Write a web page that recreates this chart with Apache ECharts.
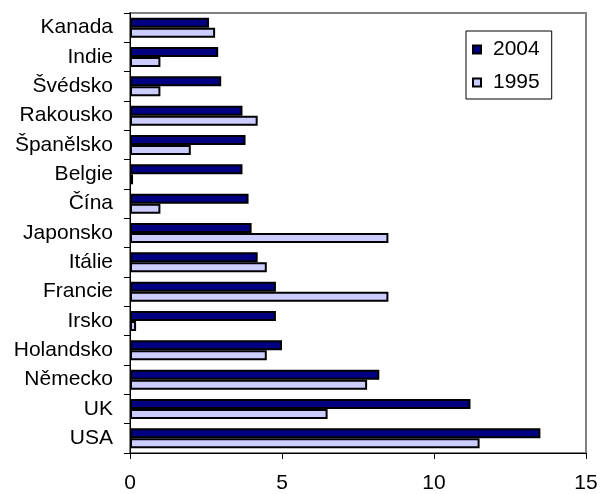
<!DOCTYPE html>
<html>
<head>
<meta charset="utf-8">
<script src="https://cdn.jsdelivr.net/npm/echarts@6/dist/echarts.min.js"></script>
<style>
  html, body { margin: 0; padding: 0; background: #fff; }
  #chart { width: 605px; height: 494px; }
</style>
</head>
<body>
<div id="chart"></div>
<script>
// Countries, top to bottom
const countries = ['Kanada', 'Indie', 'Švédsko', 'Rakousko', 'Španělsko', 'Belgie', 'Čína',
  'Japonsko', 'Itálie', 'Francie', 'Irsko', 'Holandsko', 'Německo', 'UK', 'USA'];
const values2004 = [2.6, 2.9, 3.0, 3.7, 3.8, 3.7, 3.9, 4.0, 4.2, 4.8, 4.8, 5.0, 8.2, 11.2, 13.5];
const values1995 = [2.8, 1.0, 1.0, 4.2, 2.0, 0.1, 1.0, 8.5, 4.5, 8.5, 0.2, 4.5, 7.8, 6.5, 11.5];
const seriesNames = ['2004', '1995'];

const FONT = 'Liberation Sans, Arial, sans-serif';

const chart = echarts.init(document.getElementById('chart'), null, { renderer: 'canvas' });

chart.setOption({
  animation: false,
  backgroundColor: '#ffffff',
  grid: {
    left: 130, right: 19, top: 13, bottom: 37,
    show: true, borderColor: '#808080', borderWidth: 2, backgroundColor: '#ffffff'
  },
  legend: {
    data: seriesNames,
    orient: 'vertical',
    left: 466, top: 31,
    padding: [7, 12, 5, 6],
    itemGap: 10,
    itemWidth: 8, itemHeight: 8,
    icon: 'rect',
    borderColor: '#000', borderWidth: 1,
    backgroundColor: '#fff',
    textStyle: { fontFamily: FONT, fontSize: 21, color: '#000', lineHeight: 23, padding: [0, 0, 0, 7] }
  },
  xAxis: {
    type: 'value',
    min: 0, max: 15, interval: 5,
    axisLine: { show: true, lineStyle: { color: '#000', width: 1 } },
    axisTick: { show: true, length: 6, lineStyle: { color: '#000' } },
    splitLine: { show: false },
    axisLabel: { fontFamily: FONT, fontSize: 21, color: '#000', margin: 20 }
  },
  yAxis: {
    type: 'category',
    data: countries,
    inverse: true,
    axisLine: { show: true, lineStyle: { color: '#000', width: 1 } },
    axisTick: { show: true, length: 6, lineStyle: { color: '#000' } },
    axisLabel: { fontFamily: FONT, fontSize: 21, color: '#000', margin: 17 }
  },
  series: [
    {
      name: seriesNames[0],
      type: 'bar',
      data: values2004,
      barGap: '0%',
      barCategoryGap: '32%',
      itemStyle: { color: '#000080', borderColor: '#000', borderWidth: 2 }
    },
    {
      name: seriesNames[1],
      type: 'bar',
      data: values1995,
      itemStyle: { color: '#ccccff', borderColor: '#000', borderWidth: 2 }
    }
  ]
});
</script>
</body>
</html>
